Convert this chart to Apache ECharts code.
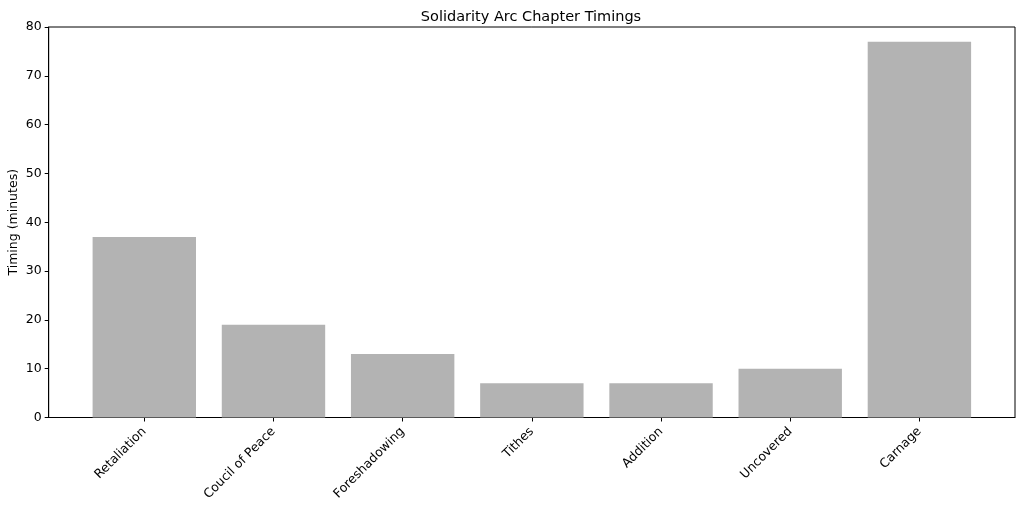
<!DOCTYPE html>
<html>
<head>
<meta charset="utf-8">
<script src="https://cdn.jsdelivr.net/npm/echarts@6/dist/echarts.min.js"></script>
<style>
html,body{margin:0;padding:0;background:#fff;}
#chart{width:1024px;height:507px;}
</style>
</head>
<body>
<div id="chart"></div>
<script>
const categories = ["Retaliation", "Coucil of Peace", "Foreshadowing", "Tithes", "Addition", "Uncovered", "Carnage"];
const timings = [37, 19, 13, 7, 7, 10, 77];
const yTicks = [0, 10, 20, 30, 40, 50, 60, 70, 80];

const positions = categories.map((_, i) => i);
const chart = echarts.init(document.getElementById('chart'), null, {renderer: 'canvas'});
const font = 'DejaVu Sans';
chart.setOption({
  animation: false,
  backgroundColor: '#fff',
  title: {
    text: 'Solidarity Arc Chapter Timings',
    left: 526,
    textAlign: 'center',
    top: 5,
    textStyle: {fontFamily: font, fontSize: 14.5, fontWeight: 'normal', color: '#000'}
  },
  grid: {
    left: 48.7, right: 9, top: 27, bottom: 89.5,
    outerBoundsMode: 'none',
    containLabel: false,
    show: true, borderColor: '#000', borderWidth: 1, backgroundColor: 'transparent'
  },
  xAxis: {
    type: 'value',
    min: -0.74, max: 6.74,
    splitLine: {show: false},
    axisLine: {show: true, onZero: false, lineStyle: {color: '#000', width: 1}},
    axisTick: {show: true, length: 4, lineStyle: {color: '#000'}, customValues: positions},
    axisLabel: {
      customValues: positions,
      rotate: 45,
      margin: 12,
      fontFamily: font, fontSize: 12.5, color: '#000',
      formatter: v => categories[Math.round(v)] || ''
    }
  },
  yAxis: {
    type: 'value',
    min: 0, max: 80, interval: 10,
    name: 'Timing (minutes)',
    nameLocation: 'middle',
    nameGap: 28,
    nameMoveOverlap: false,
    nameTextStyle: {fontFamily: font, fontSize: 12.5, color: '#000'},
    splitLine: {show: false},
    axisLine: {show: true, onZero: false, lineStyle: {color: '#000', width: 1}},
    axisTick: {show: true, length: 4, lineStyle: {color: '#000'}},
    axisLabel: {
      fontFamily: font, fontSize: 12.5, color: '#000', margin: 7,
      customValues: yTicks
    }
  },
  series: [{
    type: 'bar',
    data: positions.map((p, i) => [p, timings[i]]),
    barWidth: 103.4,
    itemStyle: {color: '#b3b3b3'}
  }]
});
</script>
</body>
</html>
